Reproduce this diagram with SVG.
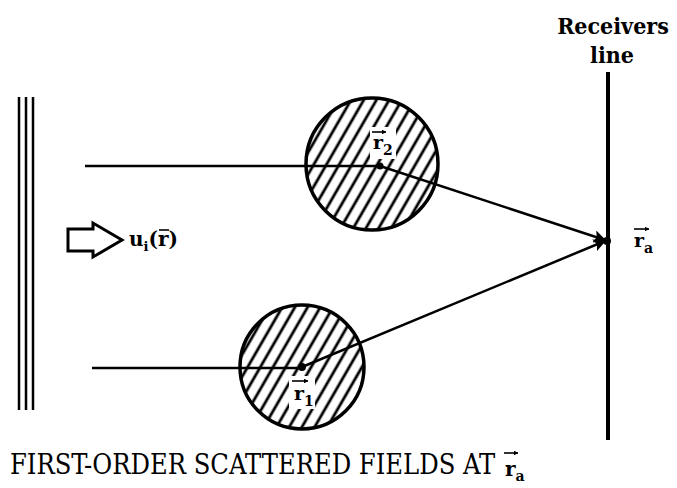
<svg xmlns="http://www.w3.org/2000/svg" width="677" height="488" viewBox="0 0 677 488">
<style>
.ln{stroke:#000;fill:none;stroke-width:2.5}
.circ{stroke:#000;stroke-width:3.5}
.t{font-family:"DejaVu Serif","Liberation Serif",serif;fill:#000}
.tc{font-family:"DejaVu Serif Condensed","DejaVu Serif","Liberation Serif",serif;fill:#000}
.vec{stroke:#000;stroke-width:1.6;fill:none;marker-end:url(#vh)}
</style>
<defs>
<pattern id="hatch" width="11" height="11" patternUnits="userSpaceOnUse" patternTransform="rotate(30)">
<line x1="2" y1="0" x2="2" y2="11" stroke="#000" stroke-width="2.8"/>
</pattern>
<marker id="ah" viewBox="0 0 10 10" refX="9" refY="5" markerWidth="9" markerHeight="5" orient="auto" markerUnits="strokeWidth">
<path d="M0,0 L10,5 L0,10 L2,5 z" fill="#000"/>
</marker>
<marker id="vh" viewBox="0 0 10 10" refX="9" refY="5" markerWidth="3" markerHeight="3" orient="auto" markerUnits="strokeWidth">
<path d="M0,0 L10,5 L0,10 z" fill="#000"/>
</marker>
</defs>
<g id="plane-wave">
<line class="ln" x1="19" y1="97" x2="19" y2="410"/>
<line class="ln" x1="26" y1="97" x2="26" y2="410"/>
<line class="ln" x1="33" y1="97" x2="33" y2="410"/>
</g>
<g id="incident">
<path d="M68,229 L93,229 L93,223 L122,240 L93,257 L93,251 L68,251 Z" fill="#fff" stroke="#000" stroke-width="3"/>
<text class="t" x="129" y="246" font-size="20" font-weight="bold">u<tspan font-size="13" dy="5">i</tspan><tspan dy="-5">(r)</tspan></text>
<line x1="159" y1="230" x2="169" y2="230" stroke="#000" stroke-width="1.6"/>
</g>
<g id="scatterer2">
<circle class="circ" cx="372" cy="164" r="66" fill="url(#hatch)"/>
<rect x="370" y="127" width="26" height="32" fill="#fff"/>
<text class="t" x="373" y="149" font-size="19" font-weight="bold">r<tspan font-size="14" dy="6">2</tspan></text>
<line class="vec" x1="372" y1="132" x2="386" y2="132"/>
<circle cx="380" cy="166" r="3.5" fill="#000"/>
</g>
<g id="scatterer1">
<circle class="circ" cx="302" cy="367" r="62" fill="url(#hatch)"/>
<rect x="289" y="376" width="26" height="33" fill="#fff"/>
<text class="t" x="294" y="400" font-size="19" font-weight="bold">r<tspan font-size="14" dy="6">1</tspan></text>
<line class="vec" x1="292" y1="381" x2="308" y2="381"/>
<circle cx="302" cy="367" r="4" fill="#000"/>
</g>
<g id="receivers">
<line x1="608" y1="72" x2="608" y2="440" stroke="#000" stroke-width="4"/>
<circle cx="607" cy="241" r="4" fill="#000"/>
<text class="tc" x="613" y="34" font-size="23" font-weight="bold" text-anchor="middle">Receivers</text>
<text class="tc" x="612" y="63" font-size="23" font-weight="bold" text-anchor="middle">line</text>
<text class="t" x="634" y="247" font-size="19" font-weight="bold">r<tspan font-size="14" dy="6">a</tspan></text>
<line class="vec" x1="634" y1="229" x2="649" y2="229"/>
</g>
<g id="connectors">
<line class="ln" x1="85" y1="166" x2="380" y2="166"/>
<line class="ln" x1="92" y1="368" x2="302" y2="368"/>
<line class="ln" x1="380" y1="166" x2="605" y2="240" marker-end="url(#ah)"/>
<line class="ln" x1="302" y1="367" x2="605" y2="241" marker-end="url(#ah)"/>
</g>
<g id="caption">
<text class="tc" x="10" y="474" font-size="27">FIRST-ORDER SCATTERED FIELDS AT</text>
<text class="t" x="505" y="476" font-size="20" font-weight="bold">r<tspan font-size="14" dy="5">a</tspan></text>
<line class="vec" x1="504" y1="453" x2="518" y2="453"/>
</g>
</svg>
